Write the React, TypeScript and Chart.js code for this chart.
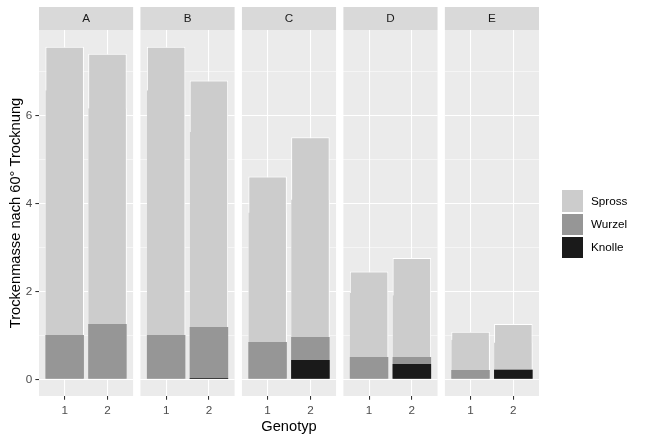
import React, { useEffect, useRef } from 'react';
import { Chart, registerables } from 'chart.js';

Chart.register(...registerables);

// ---------- data ----------
const panels = ['A', 'B', 'C', 'D', 'E'];
const genotypes = [1, 2];
const genotypeLabels = ['1', '2'];
// bar heights (from 0) per panel, genotype 1 and 2
const sprossTop = [[7.56, 7.40], [7.56, 6.79], [4.61, 5.50], [2.45, 2.76], [1.08, 1.26]];
const sprossInner = [[6.57, 6.16], [6.57, 5.62], [3.79, 4.09], [1.96, 1.91], [0.90, 0.84]];
const wurzelTop = [[1.01, 1.26], [1.01, 1.19], [0.85, 0.96], [0.51, 0.51], [0.21, 0.235]];
const knolleTop: (number | null)[][] = [[null, null], [null, 0.03], [null, 0.44], [null, 0.35], [null, 0.21]];
const seriesNames = ['Spross', 'Wurzel', 'Knolle'];
const seriesColors = ['#CCCCCC', '#969696', '#1A1A1A'];
const yMajorTicks = [0, 2, 4, 6];
const yAllTicks = [0, 1, 2, 3, 4, 5, 6, 7];
const yTitle = 'Trockenmasse nach 60° Trocknung';
const xTitle = 'Genotyp';

// ---------- layout ----------
const W = 646;
const H = 442;
const PANEL_LEFT = 39;
const PANEL_RIGHT = 539;
const PANEL_GAP = 7.33;
const PANEL_W = (PANEL_RIGHT - PANEL_LEFT - 4 * PANEL_GAP) / 5;
const STRIP_TOP = 7;
const STRIP_H = 23;
const FONT = "'Liberation Sans', Arial, Helvetica, sans-serif";

Chart.defaults.font.family = FONT;

const bgPlugin = {
  id: 'ggBackground',
  beforeDraw(chart: any) {
    const { ctx, chartArea } = chart;
    ctx.save();
    ctx.fillStyle = '#EBEBEB';
    ctx.fillRect(chartArea.left, chartArea.top, chartArea.right - chartArea.left, chartArea.bottom - chartArea.top);
    ctx.fillStyle = '#D9D9D9';
    ctx.fillRect(chartArea.left, STRIP_TOP, chartArea.right - chartArea.left, STRIP_H);
    ctx.restore();
  },
};

function buildConfig(i: number): any {
  const left = PANEL_LEFT + i * (PANEL_W + PANEL_GAP);
  const right = left + PANEL_W;
  const yMaxData = Math.max(...sprossTop.flat());
  const ymin = -0.05 * yMaxData;
  const ymax = 1.05 * yMaxData;
  const pts = (arr: (number | null)[][]) =>
    genotypes
      .map((g, j) => (arr[i][j] == null ? null : { x: g, y: arr[i][j] as number }))
      .filter((p) => p !== null);

  const common = { grouped: false, barPercentage: 0.9, categoryPercentage: 1, borderSkipped: false };

  return {
    type: 'bar',
    data: {
      datasets: [
        { ...common, label: seriesNames[2], data: pts(knolleTop), backgroundColor: seriesColors[2], borderWidth: 0 },
        { ...common, label: seriesNames[1], data: pts(wurzelTop), backgroundColor: seriesColors[1], borderWidth: 0 },
        {
          ...common,
          label: seriesNames[0] + ' inner',
          data: pts(sprossInner),
          backgroundColor: seriesColors[0],
          borderColor: '#FFFFFF',
          borderWidth: { left: 0, top: 0, right: 1, bottom: 0 },
        },
        {
          ...common,
          label: seriesNames[0],
          data: pts(sprossTop),
          backgroundColor: seriesColors[0],
          borderColor: '#FFFFFF',
          borderWidth: { left: 1, top: 1, right: 1, bottom: 0 },
        },
      ],
    },
    options: {
      animation: false,
      responsive: false,
      devicePixelRatio: 1,
      layout: { padding: { left: i === 0 ? 0 : left, right: W - right, top: STRIP_TOP, bottom: 0 } },
      plugins: {
        legend: { display: false },
        tooltip: { enabled: false },
        title: {
          display: true,
          text: panels[i],
          color: '#1A1A1A',
          font: { size: 11.7, weight: 'normal', family: FONT },
          padding: { top: 4.5, bottom: 4.5 },
          fullSize: false,
        },
      },
      scales: {
        x: {
          type: 'linear',
          min: 0.4,
          max: 2.6,
          offset: false,
          afterBuildTicks: (s: any) => {
            s.ticks = genotypes.map((v) => ({ value: v }));
          },
          afterFit: (s: any) => {
            s.height = 46;
          },
          ticks: {
            autoSkip: false,
            maxRotation: 0,
            padding: 4.3,
            color: '#4D4D4D',
            font: { size: 11.7 },
            callback: (v: number) => {
              const k = genotypes.indexOf(v);
              return k >= 0 ? genotypeLabels[k] : '';
            },
          },
          grid: {
            offset: false,
            color: '#FFFFFF',
            lineWidth: 1.07,
            drawTicks: true,
            tickColor: '#333333',
            tickWidth: 1.07,
            tickLength: 3.65,
          },
          border: { display: false },
          title:
            i === 2
              ? { display: true, text: xTitle, color: '#000000', font: { size: 14.67 }, padding: { top: 0, bottom: 6.1 } }
              : { display: false },
        },
        y: {
          type: 'linear',
          min: ymin,
          max: ymax,
          afterBuildTicks: (s: any) => {
            s.ticks = yAllTicks.map((v) => ({ value: v }));
          },
          afterFit: (s: any) => {
            s.width = i === 0 ? PANEL_LEFT : 0;
          },
          ticks: {
            display: i === 0,
            padding: 3,
            color: '#4D4D4D',
            font: { size: 11.7 },
            callback: (v: number) => (yMajorTicks.includes(v) ? String(v) : ''),
          },
          grid: {
            color: '#FFFFFF',
            lineWidth: (c: any) => (c.tick && yMajorTicks.includes(c.tick.value) ? 1.07 : 0.53),
            drawTicks: i === 0,
            tickColor: (c: any) => (c.tick && yMajorTicks.includes(c.tick.value) ? '#333333' : 'rgba(0,0,0,0)'),
            tickWidth: 1.07,
            tickLength: 3.65,
          },
          border: { display: false },
          title:
            i === 0
              ? { display: true, text: yTitle, color: '#000000', font: { size: 14.67 }, padding: { top: 7, bottom: 0 } }
              : { display: false },
        },
      },
    },
    plugins: [bgPlugin],
  };
}

function PanelChart({ index }: { index: number }) {
  const ref = useRef<HTMLCanvasElement>(null);
  useEffect(() => {
    if (!ref.current) return;
    const chart = new Chart(ref.current, buildConfig(index));
    return () => chart.destroy();
  }, [index]);
  return (
    <canvas
      ref={ref}
      width={W}
      height={H}
      style={{ position: 'absolute', left: 0, top: 0, width: W, height: H }}
    />
  );
}

export default function App() {
  const KEY = 23.2;
  return (
    <div style={{ position: 'fixed', left: 0, top: 0, width: W, height: H, background: '#FFFFFF', overflow: 'hidden' }}>
      {panels.map((p, i) => (
        <PanelChart key={p} index={i} />
      ))}
      <div style={{ position: 'absolute', left: 560.5, top: 189.4 }}>
        {seriesNames.map((n, k) => (
          <div key={n} style={{ display: 'flex', alignItems: 'center', height: KEY }}>
            <div
              style={{
                width: KEY,
                height: KEY,
                boxSizing: 'border-box',
                border: '1px solid #FFFFFF',
                background: seriesColors[k],
              }}
            />
            <span style={{ marginLeft: 7.3, font: `11.7px ${FONT}`, color: '#000000', lineHeight: '14px' }}>{n}</span>
          </div>
        ))}
      </div>
    </div>
  );
}
